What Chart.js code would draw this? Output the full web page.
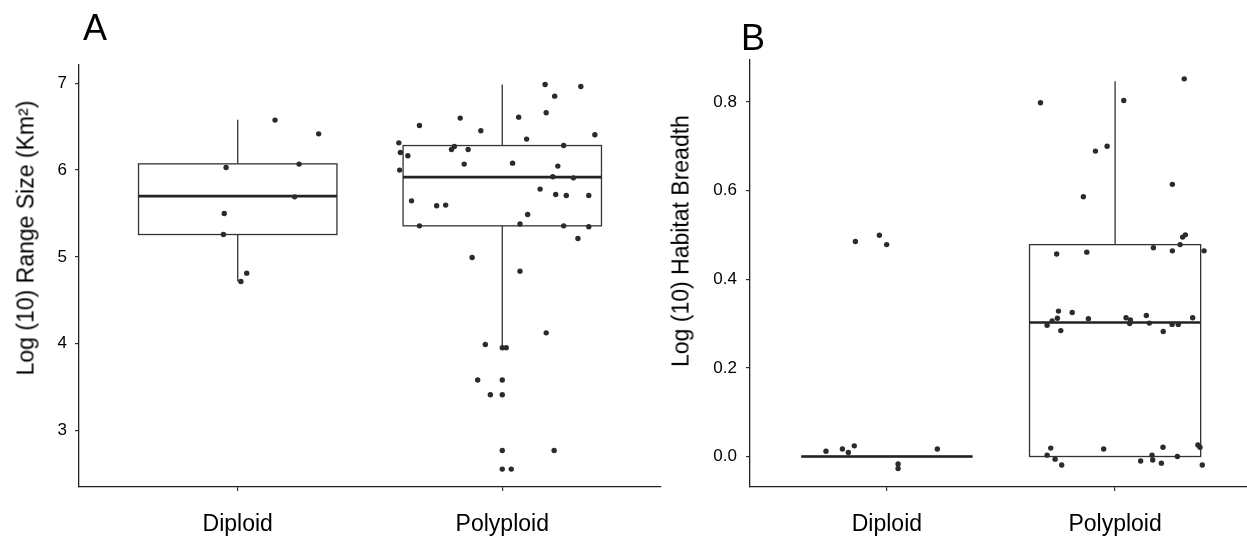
<!DOCTYPE html>
<html>
<head>
<meta charset="utf-8">
<script src="https://cdn.jsdelivr.net/npm/chart.js@4.4.0/dist/chart.umd.min.js"></script>
<style>
  html, body { margin: 0; padding: 0; background: #fff; width: 1247px; height: 538px; overflow: hidden; }
  body { position: relative; font-family: "Liberation Sans", Arial, sans-serif; }
  canvas { position: absolute; top: 0; }
  #chartA { left: 0; }
  #chartB { left: 655px; }
  .letter { position: absolute; font-size: 36px; line-height: 1; color: #000; }
  .ytitle { position: absolute; font-size: 23px; line-height: 1; color: #000; white-space: nowrap;
            transform: translate(-50%, -50%) rotate(-90deg); }
</style>
</head>
<body>
<canvas id="chartA" width="665" height="538"></canvas>
<canvas id="chartB" width="600" height="538"></canvas>
<div class="letter" style="left:83px; top:10px;">A</div>
<div class="letter" style="left:741px; top:20px;">B</div>
<div class="ytitle" style="left:26px; top:238px;">Log (10) Range Size (Km²)</div>
<div class="ytitle" style="left:681px; top:241px;">Log (10) Habitat Breadth</div>
<script>
const categories = ['Diploid', 'Polyploid']

// panel A - log10 range size
const rangeTicks = [3, 4, 5, 6, 7]
const rangeTickLabels = ['3', '4', '5', '6', '7']
// box stats: [low whisker, q1, median, q3, high whisker]
const rangeBoxDiploid = [4.715, 5.257, 5.699, 6.071, 6.578]
const rangeBoxPolyploid = [3.952, 5.357, 5.918, 6.282, 6.985]
const rangeDiploidX = [1.141, 1.306, 1.232, 0.956, 1.215, 0.949, 0.946, 1.034, 1.012]
const rangeDiploid = [6.575, 6.417, 6.068, 6.029, 5.691, 5.499, 5.257, 4.812, 4.715]
const rangePolyploidX = [1.609, 1.615, 1.643, 1.612, 1.687, 1.657, 1.687, 1.752, 1.786, 1.808,
    1.819, 1.841, 1.871, 1.856, 1.919, 1.886, 2.039, 2.062, 2.067, 2.092,
    2.096, 2.143, 2.162, 2.166, 2.198, 2.191, 2.202, 2.210, 2.232, 2.232,
    2.242, 2.269, 2.286, 2.297, 2.327, 2.327, 2.350, 2.067, 2.166, 1.936,
    2.000, 2.015, 1.907, 2.000, 1.955, 2.000, 2.000, 2.196, 2.000, 2.034]
const rangePolyploid = [6.313, 6.202, 6.164, 5.999, 6.513, 5.645, 5.357, 5.588, 5.596, 6.236,
    6.271, 6.598, 6.236, 6.068, 6.452, 4.992, 6.079, 6.609, 5.378, 6.356,
    5.487, 5.780, 6.985, 6.659, 6.851, 5.922, 5.718, 6.045, 6.282, 5.357,
    5.706, 5.910, 5.211, 6.962, 5.706, 5.346, 6.406, 4.835, 4.124, 3.990,
    3.952, 3.952, 3.580, 3.580, 3.410, 3.410, 2.768, 2.768, 2.554, 2.554]

// panel B - log10 habitat breadth
const habitatTicks = [0, 0.2, 0.4, 0.6, 0.8]
const habitatTickLabels = ['0.0', '0.2', '0.4', '0.6', '0.8']
const habitatBoxDiploid = [0, 0, 0, 0, 0]
const habitatBoxPolyploid = [0, 0, 0.3024, 0.478, 0.8467]
const habitatDiploidX = [0.862, 0.967, 0.999, 0.733, 0.805, 0.831, 0.857, 1.221, 1.049, 1.049]
const habitatDiploid = [0.485, 0.499, 0.478, 0.012, 0.017, 0.009, 0.024, 0.017, -0.017, -0.027]
const habitatPolyploidX = [1.673, 2.038, 2.303, 1.914, 1.965, 1.861, 2.251, 2.308, 2.296, 2.285,
    2.168, 2.251, 2.390, 1.744, 1.876, 1.702, 1.724, 1.747, 1.752, 1.762,
    1.812, 1.883, 2.048, 2.067, 2.064, 2.137, 2.150, 2.211, 2.250, 2.277,
    2.340, 1.718, 1.702, 1.737, 1.766, 1.950, 2.112, 2.162, 2.165, 2.203,
    2.210, 2.273, 2.363, 2.372, 2.382]
const habitatPolyploid = [0.798, 0.803, 0.852, 0.689, 0.700, 0.586, 0.614, 0.500, 0.495, 0.478,
    0.471, 0.464, 0.464, 0.457, 0.461, 0.296, 0.306, 0.312, 0.328, 0.284,
    0.325, 0.311, 0.313, 0.308, 0.300, 0.318, 0.301, 0.282, 0.298, 0.298,
    0.313, 0.019, 0.003, -0.006, -0.019, 0.017, -0.010, 0.003, -0.008, -0.015,
    0.021, 0.000, 0.026, 0.021, -0.019]

const FONT = '"Liberation Sans", Arial, sans-serif'
const INK = '#2b2b2b'

function toPoints(xs, ys) {
    return ys.map((v, i) => ({ x: xs[i], y: v }))
}

// draws the box + whiskers under the points
function boxPlugin(stats) {
    return {
        id: 'boxes',
        beforeDatasetsDraw(chart) {
            const { ctx, scales: { x, y } } = chart
            stats.forEach((s, i) => {
                const c = i + 1
                const l = x.getPixelForValue(c - 0.375)
                const r = x.getPixelForValue(c + 0.375)
                const m = x.getPixelForValue(c)
                const [lo, q1, med, q3, hi] = s.map(v => y.getPixelForValue(v))
                ctx.save()
                ctx.strokeStyle = '#333'
                ctx.lineWidth = 1.3
                ctx.beginPath()
                ctx.moveTo(m, q3); ctx.lineTo(m, hi)
                ctx.moveTo(m, q1); ctx.lineTo(m, lo)
                ctx.stroke()
                ctx.strokeRect(l, q3, r - l, q1 - q3)
                ctx.lineWidth = 2.6
                ctx.strokeStyle = '#222'
                ctx.beginPath()
                ctx.moveTo(l, med); ctx.lineTo(r, med)
                ctx.stroke()
                ctx.restore()
            })
        }
    }
}

function makePanel(id, cfg) {
    const ctx = document.querySelector(id).getContext('2d')
    return new Chart(ctx, {
        type: 'scatter',
        data: {
            datasets: cfg.series.map(s => ({
                data: s,
                backgroundColor: INK,
                borderWidth: 0,
                pointRadius: 2.7,
                pointHoverRadius: 2.7
            }))
        },
        plugins: [boxPlugin(cfg.stats)],
        options: {
            responsive: false,
            animation: false,
            devicePixelRatio: 1,
            layout: { padding: { top: cfg.top, right: cfg.right, left: 0, bottom: 0 } },
            plugins: {
                legend: { display: false },
                tooltip: { enabled: false }
            },
            scales: {
                x: {
                    type: 'linear',
                    min: 0.4,
                    max: 2.6,
                    afterBuildTicks: s => { s.ticks = [1, 2].map(v => ({ value: v })) },
                    afterFit: s => { s.height = 51 },
                    ticks: {
                        callback: (v, i) => categories[i],
                        autoSkip: false,
                        maxRotation: 0,
                        padding: 20,
                        color: '#000',
                        font: { family: FONT, size: 23 }
                    },
                    grid: { drawOnChartArea: false, tickLength: 4, color: '#333', lineWidth: 1.2 },
                    border: { color: '#222', width: 1.3 }
                },
                y: {
                    min: cfg.ymin,
                    max: cfg.ymax,
                    afterBuildTicks: s => { s.ticks = cfg.ticks.map(v => ({ value: v })) },
                    afterFit: s => { s.width = cfg.yWidth },
                    ticks: {
                        callback: (v, i) => cfg.tickLabels[i],
                        padding: cfg.tickPad,
                        color: '#000',
                        font: { family: FONT, size: 17 }
                    },
                    grid: { drawOnChartArea: false, tickLength: 4, color: '#333', lineWidth: 1.2 },
                    border: { color: '#222', width: 1.3 }
                }
            }
        }
    })
}

makePanel('#chartA', {
    series: [toPoints(rangeDiploidX, rangeDiploid), toPoints(rangePolyploidX, rangePolyploid)],
    stats: [rangeBoxDiploid, rangeBoxPolyploid],
    ticks: rangeTicks,
    tickLabels: rangeTickLabels,
    ymin: 2.348,
    ymax: 7.21,
    top: 65,
    right: 4,
    yWidth: 79,
    tickPad: 8
})

makePanel('#chartB', {
    series: [toPoints(habitatDiploidX, habitatDiploid), toPoints(habitatPolyploidX, habitatPolyploid)],
    stats: [habitatBoxDiploid, habitatBoxPolyploid],
    ticks: habitatTicks,
    tickLabels: habitatTickLabels,
    ymin: -0.0688,
    ymax: 0.8945,
    top: 60,
    right: 3,
    yWidth: 95,
    tickPad: 9
})
</script>
</body>
</html>
